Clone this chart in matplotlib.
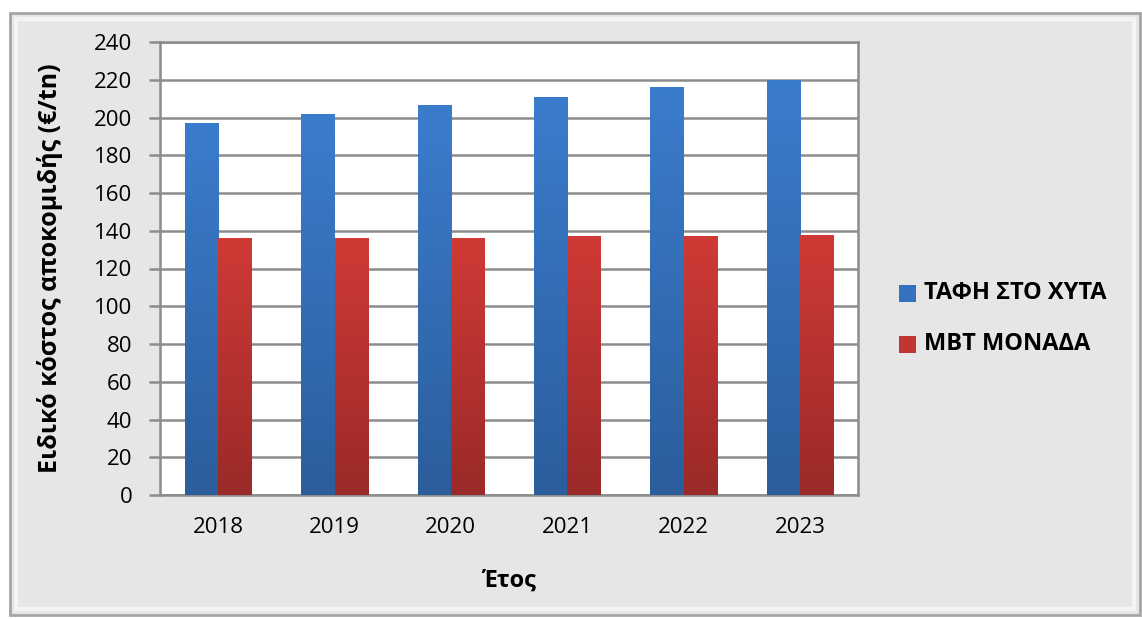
import numpy as np
import matplotlib.pyplot as plt
from matplotlib.patches import Rectangle
from matplotlib.colors import LinearSegmentedColormap

years = ["2018", "2019", "2020", "2021", "2022", "2023"]
landfill = [197.3, 202.1, 206.4, 211.1, 216.4, 220.1]
mbt = [136, 136, 136, 137, 137, 138]
series_names = ["ΤΑΦΗ ΣΤΟ ΧΥΤΑ", "ΜΒΤ ΜΟΝΑΔΑ"]
yticks = list(range(0, 241, 20))

plt.rcParams['font.family'] = ['Open Sans', 'DejaVu Sans']

fig = plt.figure(figsize=(11.42, 6.19), dpi=100)
fig.patch.set_facecolor("white")

# outer frame of the chart area (kept behind the axes)
frame = Rectangle((10 / 1142, 4 / 619), 1130 / 1142, 602 / 619,
                  transform=fig.transFigure, facecolor="#e6e6e6",
                  edgecolor="#a6a6a6", linewidth=2, zorder=-10)
fig.patches.append(frame)
inner = Rectangle((16 / 1142, 10 / 619), 1118 / 1142, 590 / 619,
                  transform=fig.transFigure, facecolor="none",
                  edgecolor="#f4f4f4", linewidth=3, zorder=-9)
fig.patches.append(inner)

ax = fig.add_axes([160 / 1142, 1 - 495 / 619, 698 / 1142, 453 / 619])
ax.set_facecolor("white")

x = np.arange(len(years))
w = 0.285


def gradient_bars(bars, top_col, bot_col):
    grad = np.linspace(0, 1, 256).reshape(-1, 1)
    cmap = LinearSegmentedColormap.from_list("g", [bot_col, top_col])
    for b in bars:
        bx, by = b.get_x(), b.get_y()
        bw, bh = b.get_width(), b.get_height()
        b.set_facecolor("none")
        im = ax.imshow(grad, extent=[bx, bx + bw, by, by + bh], origin="lower",
                       cmap=cmap, aspect="auto", zorder=3)
        im.set_clip_path(b)


b1 = ax.bar(x - w / 2, landfill, w, zorder=3, linewidth=0)
b2 = ax.bar(x + w / 2, mbt, w, zorder=3, linewidth=0)
gradient_bars(b1, "#3b7dcd", "#2c5d9c")
gradient_bars(b2, "#d03a36", "#9a2a28")

ax.set_xlim(-0.5, len(years) - 0.5)
ax.set_ylim(0, 240)
ax.set_yticks(yticks)
ax.set_xticks(x)
ax.set_xticklabels(years)
ax.grid(axis="y", color="#8c8c8c", linewidth=1.8, zorder=1)
ax.set_axisbelow(True)

for s in ["left", "right", "top", "bottom"]:
    ax.spines[s].set_color("#8c8c8c")
    ax.spines[s].set_linewidth(1.8)
ax.tick_params(axis="y", length=8, width=1.8, color="#8c8c8c", labelsize=16,
               pad=12)
ax.tick_params(axis="x", length=0, labelsize=16, pad=16)

ax.set_ylabel("Ειδικό κόστος αποκομιδής (€/tn)", fontsize=18,
              fontweight="bold", labelpad=22)
ax.set_xlabel("Έτος", fontsize=17, fontweight="bold", labelpad=22)

# legend
for i, (name, col) in enumerate(zip(series_names, ["#3472bf", "#c13533"])):
    yy = 1 - (293 + i * 51) / 619
    fig.patches.append(Rectangle((899 / 1142, yy - 9 / 619), 17 / 1142, 17 / 619,
                                 transform=fig.transFigure, facecolor=col,
                                 edgecolor="none", zorder=5))
    fig.text(924 / 1142, yy, name, fontsize=17, fontweight="bold",
             va="center", ha="left")

fig.savefig("out.png", dpi=100)
